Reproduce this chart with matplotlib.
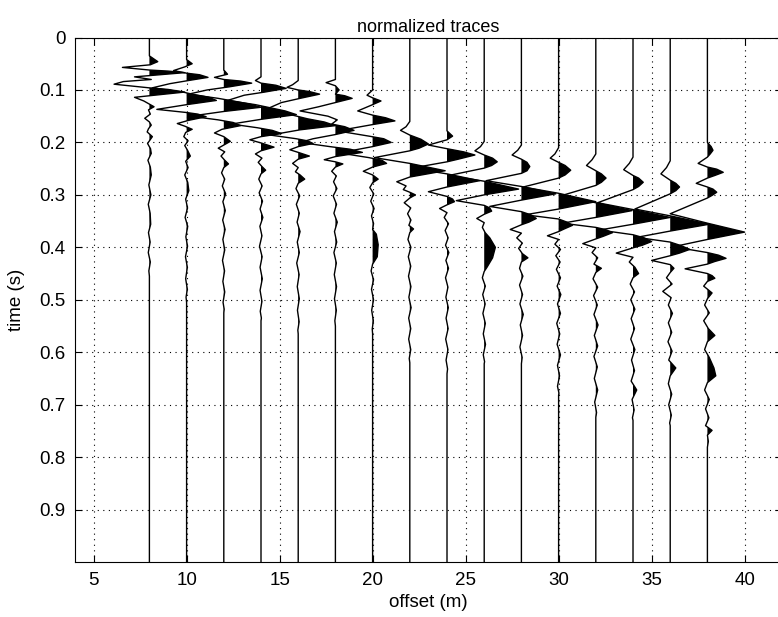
import numpy as np
import matplotlib
matplotlib.use("Agg")
from matplotlib import pyplot as plt

# trace offsets (m)
offsets = [8, 10, 12, 14, 16, 18, 20, 22, 24, 26, 28, 30, 32, 34, 36, 38]

# (time s, normalized amplitude) turning points
trace08 = [(0.035, 0.0), (0.046, 0.45), (0.052, 0.05), (0.057, -1.45), (0.062, 0.0), (0.064, 1.0), (0.067, 1.9),
           (0.075, -0.8), (0.080, 0.1), (0.084, -1.4), (0.089, -1.9), (0.096, 0.0), (0.099, 1.0), (0.104, 1.9),
           (0.114, -0.8), (0.121, -0.3), (0.127, 0.0), (0.132, 0.25), (0.138, -0.05), (0.146, 0.05), (0.154, -0.25),
           (0.161, 0.0), (0.167, 0.1), (0.174, -0.05), (0.180, -0.12), (0.189, 0.16), (0.196, 0.02), (0.202, -0.1),
           (0.212, 0.06), (0.221, 0.1), (0.234, -0.08), (0.247, 0.05), (0.262, 0.1), (0.281, -0.03), (0.300, 0.08),
           (0.318, -0.06), (0.335, 0.04), (0.356, 0.07), (0.372, -0.05), (0.390, 0.04), (0.410, -0.06), (0.428, 0.05),
           (0.445, -0.03), (0.455, 0.0)]
trace10 = [(0.042, 0.0), (0.050, 0.3), (0.056, -0.1), (0.063, -0.7), (0.068, 0.0), (0.071, 0.7), (0.076, 1.15),
           (0.082, 0.1), (0.088, -0.9), (0.096, -1.85), (0.104, -0.2), (0.108, 0.3), (0.114, 1.2), (0.120, 1.6),
           (0.128, 0.0), (0.137, -1.6), (0.143, 0.0), (0.146, 0.6), (0.151, 1.05), (0.158, 0.1), (0.164, -0.5),
           (0.169, -0.1), (0.175, 0.3), (0.181, -0.05), (0.189, -0.15), (0.197, 0.08), (0.206, -0.1), (0.215, 0.05),
           (0.226, 0.2), (0.236, -0.05), (0.248, 0.08), (0.262, -0.1), (0.276, 0.06), (0.292, 0.12), (0.308, -0.05),
           (0.325, 0.05), (0.343, -0.08), (0.360, 0.06), (0.380, -0.04), (0.398, 0.05), (0.418, -0.06), (0.438, 0.04),
           (0.460, -0.05), (0.480, 0.04), (0.495, -0.03), (0.505, 0.0)]
trace12 = [(0.062, 0.0), (0.070, 0.2), (0.076, -0.5), (0.080, 0.0), (0.083, 0.9), (0.087, 1.5), (0.094, 0.3),
           (0.100, -0.9), (0.108, -1.9), (0.116, -0.3), (0.121, 0.5), (0.127, 1.4), (0.133, 2.0), (0.141, 0.0),
           (0.150, -1.8), (0.157, -0.3), (0.162, 0.5), (0.168, 0.9), (0.175, -0.1), (0.182, -0.5), (0.189, 0.0),
           (0.198, 0.35), (0.205, 0.0), (0.211, -0.3), (0.218, 0.05), (0.226, -0.15), (0.234, 0.05), (0.241, 0.25),
           (0.248, 0.0), (0.258, -0.12), (0.270, 0.05), (0.283, -0.08), (0.298, 0.1), (0.313, -0.05), (0.330, 0.08),
           (0.348, -0.06), (0.366, 0.07), (0.385, -0.05), (0.405, 0.05), (0.425, -0.07), (0.445, 0.04), (0.465, -0.05),
           (0.485, 0.05), (0.505, -0.04), (0.518, 0.02), (0.525, 0.0)]
trace14 = [(0.075, 0.0), (0.082, -0.3), (0.087, 0.0), (0.091, 0.8), (0.097, 1.35), (0.104, 0.2), (0.110, -0.9),
           (0.120, -1.8), (0.128, -0.3), (0.134, 0.5), (0.140, 1.3), (0.147, 1.9), (0.156, 0.0), (0.165, -1.6),
           (0.172, -0.2), (0.177, 0.6), (0.183, 1.1), (0.189, 0.0), (0.195, -0.6), (0.201, 0.0), (0.209, 0.7),
           (0.216, 0.0), (0.222, -0.3), (0.230, 0.05), (0.238, -0.15), (0.246, 0.05), (0.253, 0.25), (0.260, 0.0),
           (0.270, -0.12), (0.283, 0.06), (0.296, -0.1), (0.312, 0.08), (0.327, -0.05), (0.343, 0.1), (0.360, -0.06),
           (0.378, 0.05), (0.398, -0.08), (0.418, 0.06), (0.438, -0.05), (0.460, 0.07), (0.482, -0.05), (0.503, 0.05),
           (0.522, -0.04), (0.535, 0.02), (0.540, 0.0)]
trace16 = [(0.082, 0.0), (0.090, -0.3), (0.095, -0.6), (0.100, 0.0), (0.103, 0.6), (0.108, 1.15), (0.116, 0.1),
           (0.124, -0.9), (0.138, -1.8), (0.148, -0.3), (0.155, 0.5), (0.161, 1.4), (0.168, 2.0), (0.176, 0.1),
           (0.186, -1.5), (0.193, -0.1), (0.197, 0.5), (0.202, 0.8), (0.208, 0.0), (0.214, -0.45), (0.219, 0.0),
           (0.226, 0.6), (0.232, 0.0), (0.240, -0.3), (0.248, 0.0), (0.256, -0.15), (0.262, 0.1), (0.270, 0.35),
           (0.278, 0.0), (0.288, -0.12), (0.302, 0.08), (0.318, -0.1), (0.335, 0.06), (0.352, -0.06), (0.370, 0.1),
           (0.390, -0.05), (0.410, 0.06), (0.430, -0.08), (0.452, 0.05), (0.475, -0.05), (0.498, 0.06), (0.520, -0.04),
           (0.542, 0.05), (0.558, -0.02), (0.565, 0.0)]
trace18 = [(0.080, 0.0), (0.086, -0.5), (0.092, 0.0), (0.100, 0.2), (0.108, 0.0), (0.111, 0.5), (0.116, 0.9),
           (0.124, 0.0), (0.132, -0.9), (0.140, -1.9), (0.150, -0.4), (0.157, 0.1), (0.165, -0.2), (0.170, 0.5),
           (0.177, 1.0), (0.185, 0.0), (0.193, -1.2), (0.200, -1.9), (0.208, -0.3), (0.213, 0.8), (0.219, 1.45),
           (0.227, 0.0), (0.233, -0.6), (0.237, 0.0), (0.241, 0.4), (0.247, 0.0), (0.255, -0.2), (0.264, 0.05),
           (0.275, -0.1), (0.288, 0.08), (0.302, -0.12), (0.318, 0.06), (0.335, -0.08), (0.352, 0.1), (0.370, -0.05),
           (0.390, 0.07), (0.410, -0.08), (0.430, 0.05), (0.452, -0.06), (0.475, 0.06), (0.498, -0.05), (0.520, 0.05),
           (0.540, -0.03), (0.550, 0.0)]
trace20 = [(0.100, 0.0), (0.110, -0.3), (0.115, 0.0), (0.121, 0.45), (0.128, 0.0), (0.140, -0.8), (0.148, 0.0),
           (0.153, 0.7), (0.159, 1.2), (0.166, 0.0), (0.178, -1.9), (0.188, -0.2), (0.193, 0.6), (0.200, 1.0),
           (0.208, 0.0), (0.220, -1.8), (0.229, -0.2), (0.234, 0.5), (0.240, 0.75), (0.247, 0.0), (0.255, -0.5),
           (0.262, 0.0), (0.270, 0.3), (0.277, 0.0), (0.286, -0.15), (0.298, 0.06), (0.312, -0.1), (0.326, 0.08),
           (0.340, -0.06), (0.355, 0.05), (0.366, 0.0), (0.375, 0.2), (0.395, 0.3), (0.418, 0.25), (0.432, 0.0),
           (0.445, -0.08), (0.462, 0.05), (0.480, -0.06), (0.500, 0.05), (0.520, -0.05), (0.540, 0.04), (0.556, -0.02),
           (0.565, 0.0)]
trace22 = [(0.160, 0.0), (0.170, -0.2), (0.177, -0.5), (0.186, 0.0), (0.194, 0.6), (0.203, 1.0), (0.211, 0.5),
           (0.216, 0.0), (0.229, -1.9), (0.240, 0.0), (0.254, 1.9), (0.266, 0.0), (0.275, -0.7), (0.283, -0.2),
           (0.290, -0.35), (0.295, 0.0), (0.300, 0.3), (0.306, 0.0), (0.315, -0.3), (0.325, 0.05), (0.336, -0.12),
           (0.348, 0.06), (0.358, -0.05), (0.365, 0.2), (0.372, 0.0), (0.385, -0.1), (0.400, 0.06), (0.418, -0.08),
           (0.436, 0.05), (0.455, -0.07), (0.475, 0.06), (0.495, -0.05), (0.515, 0.07), (0.535, -0.06), (0.555, 0.05),
           (0.575, -0.06), (0.595, 0.05), (0.612, -0.03), (0.620, 0.0)]
trace24 = [(0.178, 0.0), (0.188, 0.3), (0.195, 0.0), (0.205, -1.0), (0.212, 0.0), (0.218, 0.9), (0.224, 1.5),
           (0.232, 0.6), (0.237, 0.0), (0.249, -1.9), (0.260, 0.0), (0.273, 1.75), (0.285, 0.0), (0.294, -1.0),
           (0.303, 0.0), (0.308, 0.3), (0.313, 0.4), (0.319, 0.0), (0.326, -0.4), (0.334, 0.0), (0.343, -0.15),
           (0.355, 0.08), (0.368, -0.1), (0.382, 0.06), (0.396, -0.08), (0.410, 0.1), (0.425, -0.06), (0.440, 0.08),
           (0.458, -0.08), (0.476, 0.05), (0.495, -0.06), (0.515, 0.07), (0.535, -0.05), (0.555, 0.06), (0.575, -0.07),
           (0.595, 0.05), (0.615, -0.05), (0.632, 0.03), (0.641, 0.0)]
trace26 = [(0.198, 0.0), (0.208, -0.2), (0.216, -0.5), (0.224, 0.0), (0.230, 0.45), (0.237, 0.7), (0.244, 0.4),
           (0.249, 0.0), (0.263, -1.9), (0.274, 0.0), (0.289, 1.85), (0.300, 0.0), (0.311, -1.5), (0.320, 0.0),
           (0.325, 0.3), (0.331, 0.4), (0.337, 0.0), (0.345, -0.4), (0.353, 0.0), (0.362, -0.1), (0.372, 0.05),
           (0.382, 0.3), (0.400, 0.6), (0.420, 0.45), (0.438, 0.15), (0.446, 0.0), (0.458, -0.1), (0.474, 0.06),
           (0.490, -0.08), (0.508, 0.05), (0.526, -0.07), (0.545, 0.06), (0.565, -0.05), (0.585, 0.07), (0.605, -0.05),
           (0.618, 0.02), (0.622, 0.0)]
trace28 = [(0.205, 0.0), (0.215, -0.2), (0.224, -0.5), (0.232, 0.0), (0.238, 0.3), (0.246, 0.45), (0.254, 0.3),
           (0.259, 0.0), (0.273, -1.9), (0.284, 0.0), (0.298, 1.85), (0.310, 0.0), (0.322, -1.7), (0.332, 0.0),
           (0.338, 0.5), (0.345, 0.8), (0.352, 0.4), (0.357, 0.0), (0.366, -0.6), (0.373, 0.0), (0.382, -0.25),
           (0.392, 0.05), (0.402, -0.15), (0.412, 0.05), (0.420, 0.35), (0.428, 0.0), (0.440, -0.1), (0.455, 0.08),
           (0.472, -0.1), (0.490, 0.06), (0.508, -0.08), (0.528, 0.1), (0.548, -0.06), (0.568, 0.06), (0.590, -0.08),
           (0.610, 0.04), (0.622, 0.0)]
trace30 = [(0.210, 0.0), (0.222, -0.2), (0.230, -0.45), (0.238, 0.0), (0.244, 0.35), (0.253, 0.65), (0.262, 0.35),
           (0.268, 0.0), (0.285, -1.9), (0.297, 0.0), (0.313, 2.0), (0.327, 0.0), (0.338, -1.8), (0.346, 0.0),
           (0.352, 0.45), (0.358, 0.75), (0.365, 0.3), (0.370, 0.0), (0.378, -0.6), (0.385, 0.0), (0.394, -0.2),
           (0.404, 0.1), (0.416, -0.15), (0.428, 0.08), (0.442, -0.12), (0.458, 0.1), (0.474, -0.08), (0.490, 0.12),
           (0.508, -0.06), (0.526, 0.1), (0.545, -0.1), (0.565, 0.06), (0.585, -0.08), (0.605, 0.1), (0.625, -0.06),
           (0.645, 0.05), (0.665, -0.06), (0.678, 0.02), (0.682, 0.0)]
trace32 = [(0.222, 0.0), (0.233, -0.2), (0.244, -0.5), (0.254, 0.0), (0.260, 0.3), (0.268, 0.55), (0.276, 0.3),
           (0.282, 0.0), (0.302, -1.9), (0.315, 0.0), (0.330, 1.95), (0.343, 0.0), (0.354, -1.8), (0.362, 0.0),
           (0.366, 0.5), (0.372, 0.9), (0.379, 0.4), (0.384, 0.0), (0.393, -0.7), (0.401, 0.0), (0.410, -0.2),
           (0.420, 0.1), (0.432, -0.1), (0.440, 0.3), (0.448, 0.0), (0.460, -0.15), (0.476, 0.1), (0.492, -0.12),
           (0.510, 0.08), (0.528, -0.1), (0.548, 0.12), (0.568, -0.08), (0.588, 0.1), (0.608, -0.1), (0.628, 0.08),
           (0.650, -0.08), (0.672, 0.1), (0.695, -0.06), (0.715, 0.04), (0.724, 0.0)]
trace34 = [(0.228, 0.0), (0.240, -0.2), (0.252, -0.5), (0.263, 0.0), (0.268, 0.3), (0.276, 0.55), (0.284, 0.3),
           (0.290, 0.0), (0.315, -1.9), (0.328, 0.0), (0.343, 2.0), (0.356, 0.0), (0.367, -1.8), (0.376, 0.0),
           (0.382, 0.6), (0.389, 1.0), (0.396, 0.5), (0.401, 0.0), (0.411, -0.9), (0.419, 0.0), (0.428, -0.2),
           (0.438, 0.1), (0.450, 0.3), (0.458, 0.0), (0.470, -0.15), (0.485, 0.08), (0.500, -0.12), (0.518, 0.1),
           (0.536, -0.1), (0.555, 0.08), (0.575, -0.12), (0.595, 0.1), (0.615, -0.08), (0.635, 0.08), (0.655, -0.1),
           (0.672, 0.2), (0.690, -0.05), (0.710, 0.06), (0.725, -0.03), (0.730, 0.0)]
trace36 = [(0.235, 0.0), (0.248, -0.2), (0.260, -0.5), (0.272, 0.0), (0.278, 0.3), (0.285, 0.5), (0.292, 0.3),
           (0.298, 0.0), (0.327, -1.9), (0.340, 0.0), (0.356, 2.1), (0.369, 0.0), (0.381, -1.8), (0.390, 0.0),
           (0.397, 0.6), (0.404, 1.05), (0.411, 0.5), (0.416, 0.0), (0.425, -1.0), (0.433, 0.0), (0.440, 0.2),
           (0.448, 0.0), (0.458, -0.2), (0.470, 0.1), (0.484, -0.4), (0.496, 0.05), (0.510, -0.1), (0.526, 0.12),
           (0.544, -0.1), (0.562, 0.08), (0.580, -0.12), (0.598, 0.1), (0.615, -0.08), (0.630, 0.3), (0.645, 0.0),
           (0.660, -0.1), (0.680, 0.08), (0.700, -0.08), (0.720, 0.06), (0.735, -0.03), (0.740, 0.0)]
trace38 = [(0.200, 0.0), (0.208, 0.2), (0.215, 0.3), (0.222, 0.15), (0.228, 0.0), (0.240, -0.5), (0.247, 0.0),
           (0.251, 0.5), (0.257, 0.85), (0.263, 0.4), (0.268, 0.0), (0.278, -0.6), (0.285, 0.0), (0.289, 0.3),
           (0.295, 0.5), (0.301, 0.25), (0.306, 0.0), (0.336, -2.0), (0.354, 0.0), (0.371, 2.0), (0.385, 0.0),
           (0.399, -1.85), (0.410, 0.0), (0.415, 0.6), (0.421, 1.0), (0.427, 0.4), (0.432, 0.0), (0.441, -1.2),
           (0.450, 0.0), (0.454, 0.25), (0.459, 0.4), (0.465, 0.0), (0.474, -0.2), (0.487, 0.25), (0.498, 0.0),
           (0.510, -0.15), (0.525, 0.1), (0.540, -0.2), (0.555, 0.05), (0.568, 0.4), (0.580, 0.0), (0.595, -0.15),
           (0.610, 0.1), (0.630, 0.35), (0.645, 0.45), (0.658, 0.0), (0.672, -0.15), (0.690, 0.1), (0.708, -0.1),
           (0.725, 0.08), (0.740, -0.1), (0.749, 0.25), (0.758, 0.0), (0.770, 0.05), (0.781, 0.0)]

traces = [trace08, trace10, trace12, trace14, trace16, trace18, trace20, trace22,
          trace24, trace26, trace28, trace30, trace32, trace34, trace36, trace38]

xticks = [5, 10, 15, 20, 25, 30, 35, 40]
yticks = [0, 0.1, 0.2, 0.3, 0.4, 0.5, 0.6, 0.7, 0.8, 0.9]
ytick_labels = ["0", "0.1", "0.2", "0.3", "0.4", "0.5", "0.6", "0.7", "0.8", "0.9"]

plt.rcParams['font.family'] = ['Liberation Sans', 'DejaVu Sans']
plt.rcParams['font.size'] = 13.5

fig = plt.figure(figsize=(7.78, 6.17), dpi=100)
ax = fig.add_axes([0.0964, 0.0891, 0.9085, 0.8501])

for off, tr in zip(offsets, traces):
    tr = np.array(tr)
    t = np.concatenate([[0.0], tr[:, 0], [1.0]])
    a = np.concatenate([[0.0], tr[:, 1], [0.0]])
    ax.plot(off + a, t, color='k', lw=1.0)
    ax.fill_betweenx(t, off, off + a, where=a > 0, interpolate=True, color='k', lw=0)

ax.set_xlim(4, 42)
ax.set_ylim(1, 0)
ax.set_xticks(xticks)
ax.set_yticks(yticks)
ax.set_yticklabels(ytick_labels)
ax.grid(True, linestyle=(0, (1, 4)), color='k', linewidth=0.8)
ax.tick_params(direction='in', top=True, right=True, length=5, width=0.8, pad=7)
for s in ax.spines.values():
    s.set_linewidth(0.8)

ax.set_xlabel("offset (m)", labelpad=4)
ax.set_ylabel("time (s)", labelpad=10)
ax.set_title("normalized traces", fontsize=13, pad=4)

fig.savefig("out.png", dpi=100)
